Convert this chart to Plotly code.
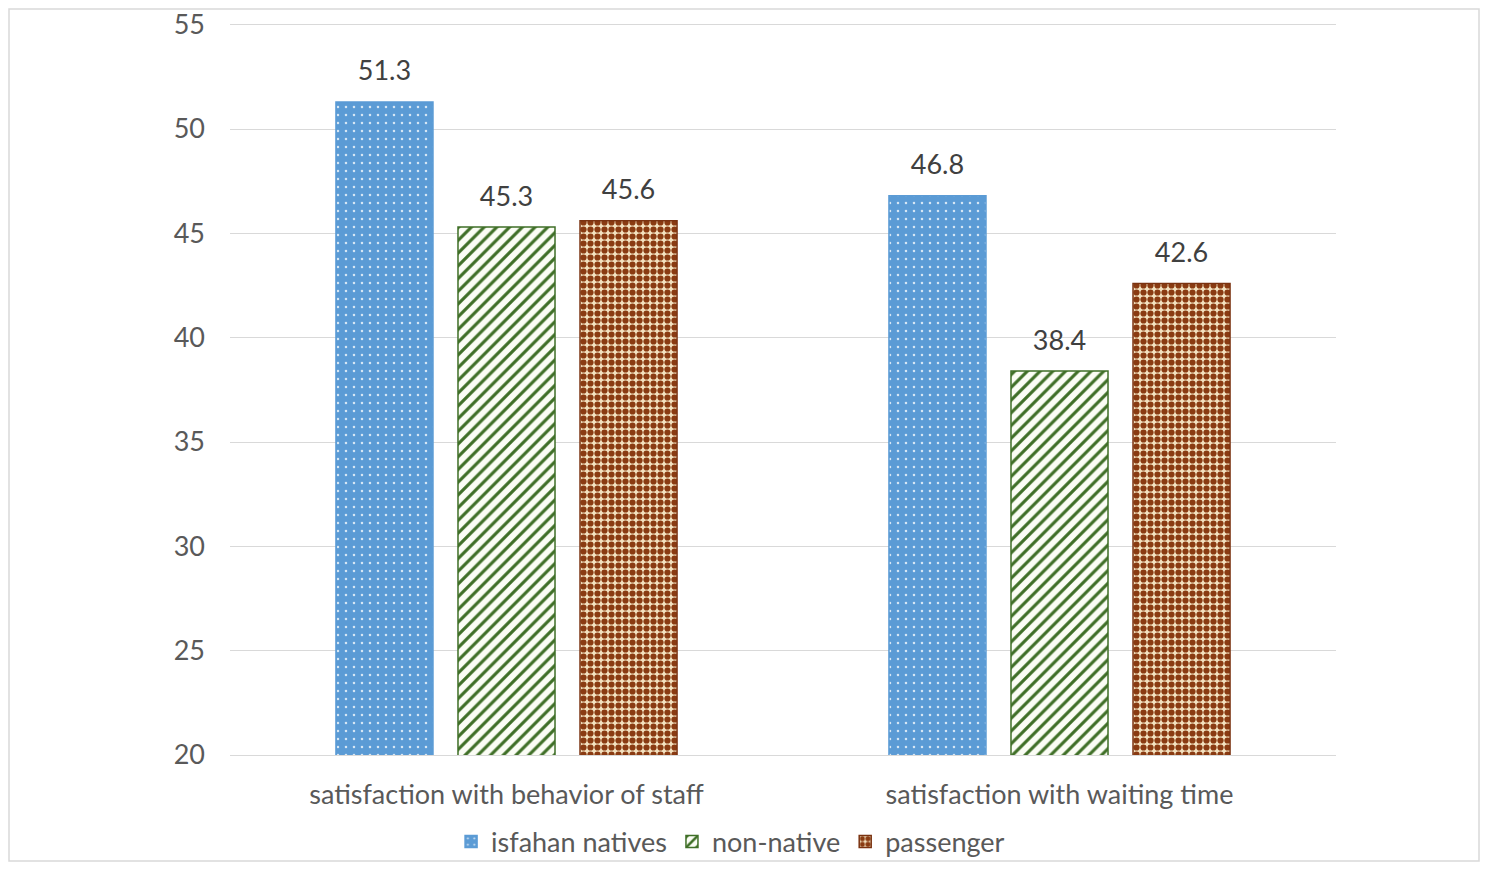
import plotly.graph_objects as go

categories = ["satisfaction with behavior of staff", "satisfaction with waiting time"]
series_names = ["isfahan natives", "non-native", "passenger"]
isfahan_natives = [51.3, 46.8]
non_native = [45.3, 38.4]
passenger = [45.6, 42.6]
y_ticks = [20, 25, 30, 35, 40, 45, 50, 55]

FONT = "Lato"
FS = 27
# figure sits at (8,8) in the page because of the default body margin
W, H = 1472, 855
YMAX = 55.08
PXU = 730 / 35.0
L, PW = 222, 1106
T = int(round(17 - (YMAX - 55) * PXU))
PH = int(round((YMAX - 20) * PXU))
R = W - L - PW
B = H - T - PH

fig = go.Figure()

styles = [
    dict(bg="#5B9BD5", fg="rgba(255,255,255,0.75)", shape=".", size=8, sol=0.08, line="#5B9BD5"),
    dict(bg="#FBFDF5", fg="#3F6F27", shape="/", size=9, sol=0.35, line="#3F6F27"),
    dict(bg="#F3E2C0", fg="#8A3B12", shape=".", size=7, sol=0.62, line="#7A3210"),
]
all_vals = [isfahan_natives, non_native, passenger]
for name, vals, st in zip(series_names, all_vals, styles):
    fig.add_trace(go.Bar(
        x=categories, y=vals, name=name,
        marker=dict(
            color=st["bg"],
            line=dict(color=st["line"], width=1.5),
            pattern=dict(shape=st["shape"], fgcolor=st["fg"], bgcolor=st["bg"],
                         size=st["size"], solidity=st["sol"], fillmode="replace"),
        ),
    ))

# value labels, grouped the same way as the bars
for name, vals in zip(series_names, all_vals):
    fig.add_trace(go.Scatter(
        x=categories, y=vals, mode="markers+text", showlegend=False,
        text=[f"{v:.1f}" for v in vals], textposition="top center",
        textfont=dict(size=FS, color="#404040", family=FONT),
        marker=dict(size=22, color="rgba(0,0,0,0)"),
        cliponaxis=False, hoverinfo="skip",
    ))

fig.update_layout(
    width=W, height=H,
    margin=dict(l=L, r=R, t=T, b=B, autoexpand=False),
    paper_bgcolor="white", plot_bgcolor="white",
    barmode="group", bargap=0.338, bargroupgap=0.205,
    scattermode="group", scattergap=0.338,
    font=dict(family=FONT, color="#595959", size=FS),
    showlegend=True,
    legend=dict(orientation="h", x=0.4526, xref="paper", y=(H - 834) / H, yref="container",
                xanchor="center", yanchor="middle", bgcolor="rgba(0,0,0,0)",
                font=dict(size=FS, color="#595959", family=FONT), itemwidth=30,
                traceorder="normal"),
    xaxis=dict(showgrid=False, showline=True, linecolor="#d9d9d9", linewidth=1,
               automargin=False,
               ticks="", tickfont=dict(size=FS, color="#595959"), ticklabelstandoff=16),
    yaxis=dict(range=[20, YMAX], tickvals=y_ticks, showgrid=True, gridcolor="#d9d9d9",
               gridwidth=1, zeroline=False, showline=False, ticks="", automargin=False,
               ticklabeloverflow="allow",
               tickfont=dict(size=FS, color="#595959"), ticklabelstandoff=24),
    shapes=[dict(type="rect", xref="paper", yref="paper",
                 x0=(1 - L) / PW, x1=(W - 1 - L) / PW,
                 y0=(T + PH - (H - 2)) / PH, y1=(T + PH - 1) / PH,
                 line=dict(color="#d9d9d9", width=1.5), fillcolor="rgba(0,0,0,0)")],
)

fig.write_html("out.html")
